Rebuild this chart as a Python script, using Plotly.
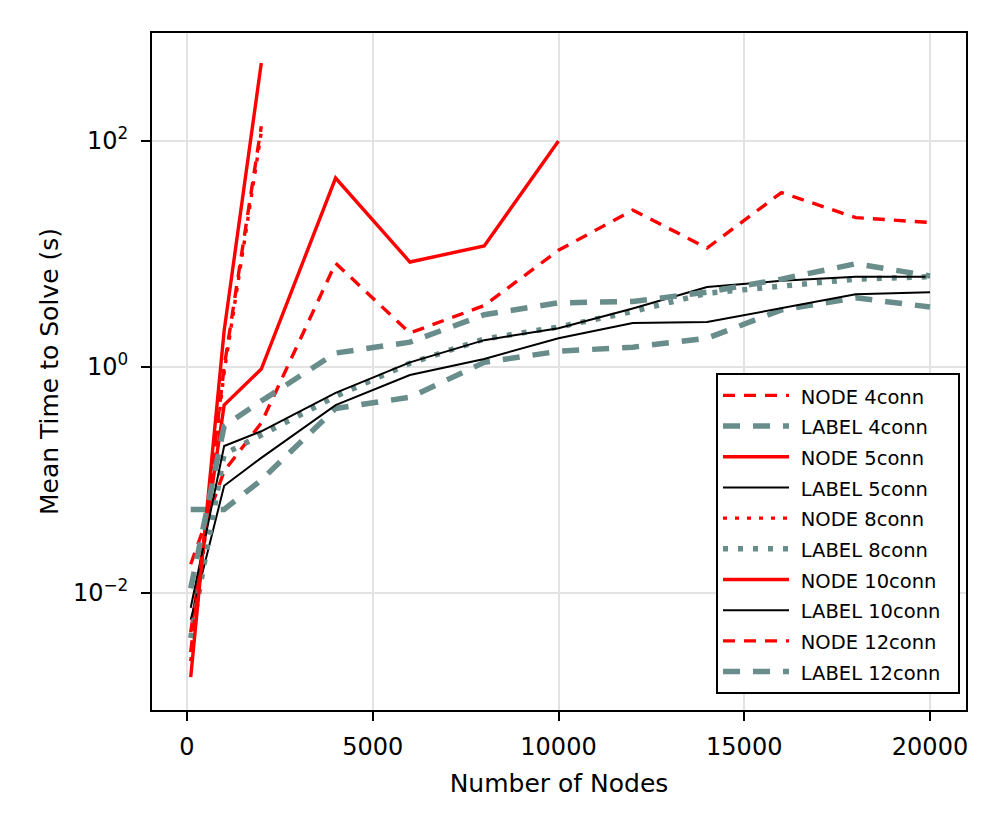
import plotly.graph_objects as go

# ---- data ----
x_full = [100, 1000, 2000, 4000, 6000, 8000, 10000, 12000, 14000, 16000, 18000, 20000]
x_10k = [100, 1000, 2000, 4000, 6000, 8000, 10000]
x_2k = [100, 1000, 2000]

node_4conn = [0.018, 0.12, 0.32, 8.3, 2.0, 3.5, 10.8, 24.5, 11.3, 35, 21, 19]
label_4conn = [0.055, 0.055, 0.1, 0.43, 0.54, 1.1, 1.38, 1.5, 1.8, 3.2, 4.1, 3.4]
node_5conn = [0.0045, 0.46, 0.96, 47, 8.5, 11.8, 100]
label_5conn = [0.0058, 0.089, 0.157, 0.46, 0.85, 1.18, 1.8, 2.45, 2.5, 3.3, 4.4, 4.6]
node_8conn = [0.0025, 0.9, 120]
label_8conn = [0.004, 0.17, 0.25, 0.55, 1.08, 1.77, 2.26, 3.1, 4.5, 5.2, 6.0, 6.3]
node_10conn = [0.0018, 2.1, 490]
label_10conn = [0.0074, 0.2, 0.27, 0.59, 1.1, 1.73, 2.2, 3.3, 5.1, 5.8, 6.3, 6.3]
node_12conn = [0.003, 1.0, 135]
label_12conn = [0.011, 0.3, 0.5, 1.33, 1.66, 2.9, 3.7, 3.8, 4.6, 6.0, 8.2, 6.4]

x_ticks = [0, 5000, 10000, 15000, 20000]
y_ticks = [0.01, 1, 100]
y_ticktext = ["10<sup>−2</sup>", "10<sup>0</sup>", "10<sup>2</sup>"]

RED = "#ff0000"
GREY = "rgb(105,141,139)"
BLACK = "#000000"

series = [
    ("NODE 4conn", x_full, node_4conn, RED, 3.4, "12px,9px"),
    ("LABEL 4conn", x_full, label_4conn, GREY, 5.5, "17px,13px"),
    ("NODE 5conn", x_10k, node_5conn, RED, 3.4, "solid"),
    ("LABEL 5conn", x_full, label_5conn, BLACK, 2, "solid"),
    ("NODE 8conn", x_2k, node_8conn, RED, 3.4, "4px,8px"),
    ("LABEL 8conn", x_full, label_8conn, GREY, 5.5, "5px,10px"),
    ("NODE 10conn", x_2k, node_10conn, RED, 3.4, "solid"),
    ("LABEL 10conn", x_full, label_10conn, BLACK, 2, "solid"),
    ("NODE 12conn", x_2k, node_12conn, RED, 3.4, "12px,9px"),
    ("LABEL 12conn", x_full, label_12conn, GREY, 5.5, "17px,13px"),
]

fig = go.Figure()
for name, xs, ys, color, width, dash in series:
    fig.add_trace(go.Scatter(
        x=xs, y=ys, mode="lines",
        name='&nbsp;<span style="font-size:19.5px">' + name + '&nbsp;&nbsp;</span>',
        line=dict(color=color, width=width, dash=dash),
    ))

FONT = "DejaVu Sans"
# page body has an 8px margin, so the figure is offset by 8px
fig.update_layout(
    width=992, height=825,
    margin=dict(l=144, r=34, t=25, b=123),
    paper_bgcolor="white", plot_bgcolor="white",
    font=dict(family=FONT, color="black", size=24),
    legend=dict(
        x=(716 - 152) / 814, y=(710 - 373) / 677,
        xanchor="left", yanchor="top",
        bordercolor="black", borderwidth=2, bgcolor="white",
        font=dict(family=FONT, size=21.3, color="black"),
        itemwidth=66, tracegroupgap=0,
    ),
    showlegend=True,
)
fig.update_xaxes(
    range=[-942, 20969],
    tickvals=x_ticks, ticktext=[str(v) for v in x_ticks],
    showgrid=True, gridcolor="#e3e3e3", gridwidth=1.5,
    zeroline=False,
    showline=True, linecolor="black", linewidth=2, mirror=True,
    ticks="outside", ticklen=9, tickwidth=1.5, tickcolor="black",
    tickfont=dict(size=24, family=FONT), ticklabelstandoff=5,
    title=dict(text="Number of Nodes", font=dict(size=25, family=FONT), standoff=15),
)
fig.update_yaxes(
    type="log", range=[-3.035, 2.956],
    tickvals=y_ticks, ticktext=y_ticktext,
    showgrid=True, gridcolor="#e3e3e3", gridwidth=1.5,
    zeroline=False,
    showline=True, linecolor="black", linewidth=2, mirror=True,
    ticks="outside", ticklen=9, tickwidth=1.5, tickcolor="black",
    tickfont=dict(size=24, family=FONT), ticklabelstandoff=8,
    title=dict(text="Mean Time to Solve (s)", font=dict(size=25, family=FONT), standoff=7),
)

fig.write_html("out.html")
